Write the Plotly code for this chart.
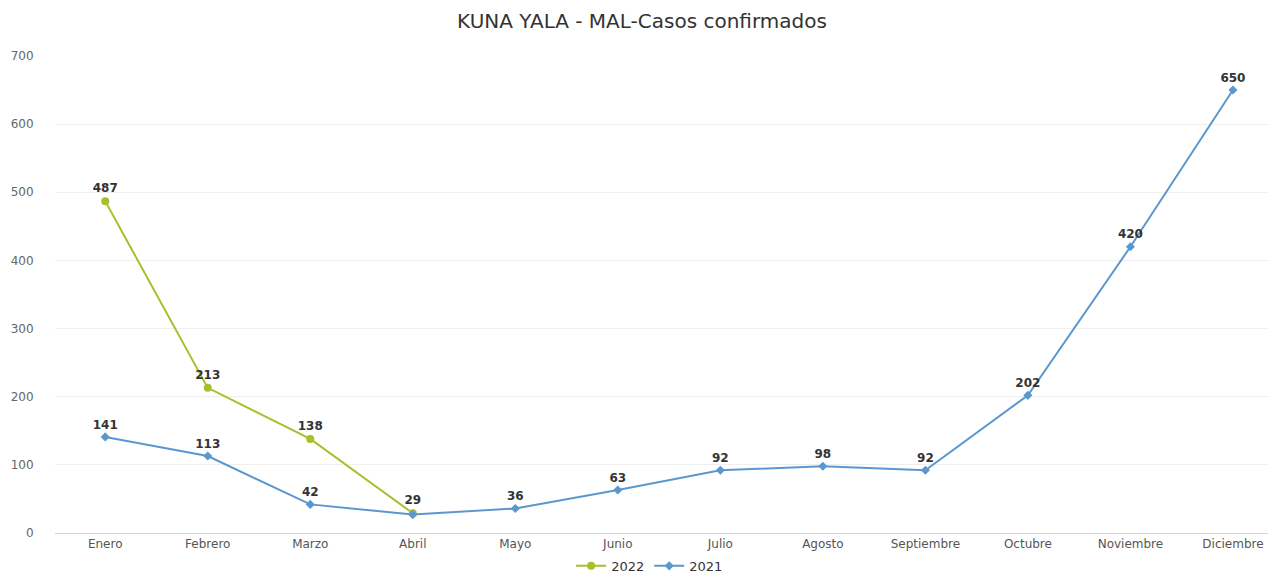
import plotly.graph_objects as go

months = ["Enero", "Febrero", "Marzo", "Abril", "Mayo", "Junio", "Julio",
          "Agosto", "Septiembre", "Octubre", "Noviembre", "Diciembre"]
y2022 = [487, 213, 138, 29]
y2021 = [141, 113, 42, 27, 36, 63, 92, 98, 92, 202, 420, 650]
labels2021 = ["141", "113", "42", "", "36", "63", "92", "98", "92", "202", "420", "650"]

FONT = "DejaVu Sans"
lab_font = dict(family=FONT, size=12, color="#333333")

fig = go.Figure()
fig.add_trace(go.Scatter(
    x=months[:len(y2022)], y=y2022, name="2022",
    mode="lines+markers+text",
    line=dict(color="#a6c02b", width=2),
    marker=dict(symbol="circle", size=8, color="#a6c02b"),
    text=[f"<b>{v}</b>" for v in y2022], textposition="top center",
    textfont=lab_font, cliponaxis=False,
))
fig.add_trace(go.Scatter(
    x=months, y=y2021, name="2021",
    mode="lines+markers+text",
    line=dict(color="#5b97cf", width=2),
    marker=dict(symbol="diamond", size=7, color="#5b97cf"),
    text=[f"<b>{t}</b>" if t else "" for t in labels2021], textposition="top center",
    textfont=lab_font, cliponaxis=False,
))

# page body has an 8px margin, so the figure is 8px smaller and offsets are shifted
W, H = 1268, 568
fig.update_layout(
    width=W, height=H,
    paper_bgcolor="white", plot_bgcolor="white",
    margin=dict(l=47, r=0, t=48, b=43, autoexpand=False),
    font=dict(family=FONT, size=12, color="#666666"),
    title=dict(text="KUNA YALA - MAL-Casos confirmados", x=0.5, xanchor="center",
               y=1 - 13 / H, yanchor="middle",
               font=dict(family=FONT, size=20, color="#333333")),
    xaxis=dict(type="category", categoryorder="array", categoryarray=months,
               range=[-0.49, 11.42], showgrid=False, showline=True,
               linecolor="#ccd6eb", linewidth=1, ticks="", zeroline=False,
               automargin=False,
               tickfont=dict(family=FONT, size=12, color="#555555")),
    yaxis=dict(range=[0, 700], dtick=100, showgrid=True, gridcolor="#efefef",
               zeroline=False, showline=False, ticks="outside", ticklen=18,
               tickcolor="rgba(0,0,0,0)", automargin=False,
               tickfont=dict(family=FONT, size=12, color="#666666")),
    legend=dict(orientation="h", x=0.487, xanchor="center", y=-0.069, yanchor="middle",
                font=dict(family=FONT, size=13, color="#333333"),
                itemwidth=30),
    showlegend=True,
)

fig.write_html("out.html")
